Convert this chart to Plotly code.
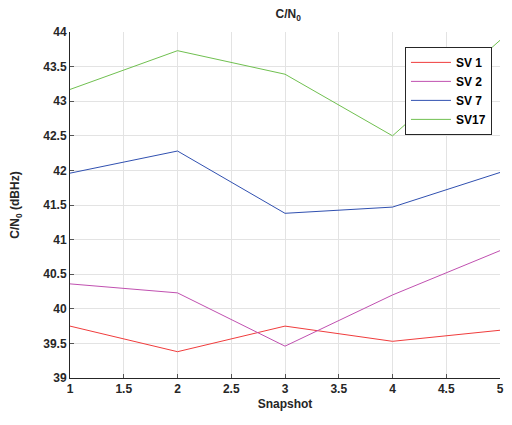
import plotly.graph_objects as go

snapshots = [1, 2, 3, 4, 5]
sv1 = [39.75, 39.38, 39.75, 39.53, 39.69]
sv2 = [40.36, 40.23, 39.46, 40.20, 40.84]
sv7 = [41.96, 42.28, 41.38, 41.47, 41.97]
sv17 = [43.17, 43.73, 43.39, 42.50, 43.88]
names = ["SV 1", "SV 2", "SV 7", "SV17"]
colors = ["#f03c3c", "#c050b0", "#3050b0", "#70c050"]
yticks = [39, 39.5, 40, 40.5, 41, 41.5, 42, 42.5, 43, 43.5, 44]
xticks = [1, 1.5, 2, 2.5, 3, 3.5, 4, 4.5, 5]

fig = go.Figure()
for name, vals, c in zip(names, [sv1, sv2, sv7, sv17], colors):
    fig.add_trace(go.Scatter(x=snapshots, y=vals, mode="lines", name=f"<b>{name}</b>",
                             line=dict(color=c, width=1)))

font = dict(family="Liberation Sans, Arial, sans-serif", size=12, color="#262626")
fig.update_layout(
    width=496, height=409,
    margin=dict(l=62, r=4, t=24, b=39, autoexpand=False),
    paper_bgcolor="white", plot_bgcolor="white",
    font=font,
    showlegend=True,
    title=dict(text="<b>C/N<sub>0</sub></b>", x=0.565, xanchor="center", y=0.995, yanchor="top",
               font=dict(size=12, color="#262626"), automargin=False),
    legend=dict(x=0.779, y=0.957, xanchor="left", yanchor="top",
                bgcolor="white", bordercolor="#262626", borderwidth=1,
                font=dict(size=12, color="black"), tracegroupgap=0,
                itemwidth=40),
)
fig.update_xaxes(range=[1, 5], tickvals=xticks, ticktext=[f"<b>{t:g}</b>" for t in xticks],
                 showgrid=True, gridcolor="#e3e3e3", gridwidth=1,
                 showline=True, linecolor="#262626", linewidth=1,
                 ticks="inside", ticklen=4, tickcolor="#555", zeroline=False,
                 automargin=False, ticklabeloverflow="allow",
                 title=dict(text="<b>Snapshot</b>", standoff=4, font=dict(size=12)))
fig.update_yaxes(range=[39, 44], tickvals=yticks, ticktext=[f"<b>{t:g}</b>" for t in yticks],
                 showgrid=True, gridcolor="#e3e3e3", gridwidth=1,
                 showline=True, linecolor="#262626", linewidth=1,
                 ticks="inside", ticklen=4, tickcolor="#555", zeroline=False,
                 automargin=False, ticklabeloverflow="allow",
                 title=dict(text="<b>C/N<sub>0</sub> (dBHz)</b>", standoff=30, font=dict(size=12)))

fig.write_html("out.html")
